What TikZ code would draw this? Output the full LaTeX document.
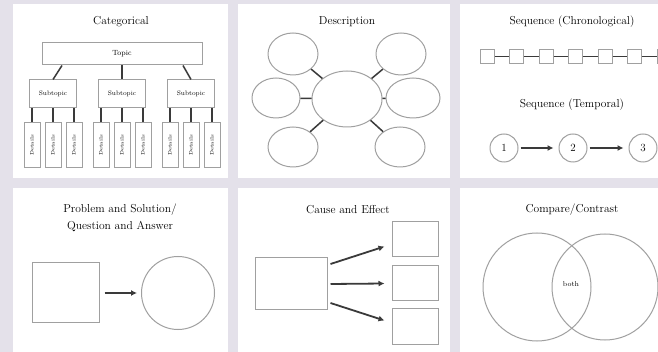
\documentclass[tikz,border=0pt]{standalone}
\usepackage{tikz}
\usetikzlibrary{positioning}
\usetikzlibrary{shapes.geometric}
\usetikzlibrary{arrows.meta}
\definecolor{backdrop}{HTML}{E4E1EA}
\definecolor{edgegray}{HTML}{A0A0A0}
\definecolor{inkgray}{HTML}{3A3A3A}
\tikzset{panel/.style={fill=white}}
\tikzset{heading/.style={font=\fontsize{11.5}{17}\selectfont, text=black, align=center}}
\tikzset{boxnode/.style={rectangle, draw=edgegray, line width=1pt, fill=white, inner sep=0pt}}
\tikzset{subbox/.style={boxnode, minimum width=47pt, minimum height=28pt, font=\fontsize{6.5}{7}\selectfont}}
\tikzset{detailbox/.style={boxnode, minimum width=16pt, minimum height=45pt, font=\fontsize{5}{6}\selectfont}}
\tikzset{seqbox/.style={boxnode, minimum size=14pt}}
\tikzset{ovalnode/.style={ellipse, draw=edgegray, line width=1pt, fill=white, inner sep=0pt}}
\tikzset{roundnode/.style={circle, draw=edgegray, line width=1pt, inner sep=0pt}}
\tikzset{link/.style={draw=inkgray, line width=1.5pt}}
\tikzset{arrowlink/.style={draw=inkgray, line width=1.8pt, -{Latex[length=6pt,width=6pt]}}}

\begin{document}
\begin{tikzpicture}[x=1pt, y=-1pt]

    \useasboundingbox (0,0) rectangle (658,352);
    \fill[backdrop] (0,0) rectangle (658,352);
    \fill[panel] (13,4) rectangle (228,178);
    \fill[panel] (238,4) rectangle (450,178);
    \fill[panel] (460,4) rectangle (670,178);
    \fill[panel] (13,188) rectangle (228,360);
    \fill[panel] (238,188) rectangle (450,360);
    \fill[panel] (460,188) rectangle (670,360);

    \node[heading]        (cattitle)      at (121,22)             {Categorical};
    \node[boxnode, minimum width=160pt, minimum height=22pt, font=\fontsize{7.5}{8}\selectfont] (topic) at (122,54) {Topic};
    \node[subbox]         (subtopicB)     at (122,94)             {Subtopic};
    \node[subbox]         (subtopicA)     [left=21pt of subtopicB]  {Subtopic};
    \node[subbox]         (subtopicC)     [right=21pt of subtopicB] {Subtopic};

    \node[detailbox]      (detailA2)      [below=14pt of subtopicA] {\rotatebox{90}{Details}};
    \node[detailbox]      (detailA1)      [left=4pt of detailA2]    {\rotatebox{90}{Details}};
    \node[detailbox]      (detailA3)      [right=4pt of detailA2]   {\rotatebox{90}{Details}};
    \node[detailbox]      (detailB2)      [below=14pt of subtopicB] {\rotatebox{90}{Details}};
    \node[detailbox]      (detailB1)      [left=4pt of detailB2]    {\rotatebox{90}{Details}};
    \node[detailbox]      (detailB3)      [right=4pt of detailB2]   {\rotatebox{90}{Details}};
    \node[detailbox]      (detailC2)      [below=14pt of subtopicC] {\rotatebox{90}{Details}};
    \node[detailbox]      (detailC1)      [left=4pt of detailC2]    {\rotatebox{90}{Details}};
    \node[detailbox]      (detailC3)      [right=4pt of detailC2]   {\rotatebox{90}{Details}};

    \draw[link] ([xshift=-60pt]topic.south) -- (subtopicA.north);
    \draw[link] (topic.south) -- (subtopicB.north);
    \draw[link] ([xshift=61pt]topic.south) -- (subtopicC.north);
    \draw[link] (detailA1 |- subtopicA.south) -- (detailA1);
    \draw[link] (detailA2 |- subtopicA.south) -- (detailA2);
    \draw[link] (detailA3 |- subtopicA.south) -- (detailA3);
    \draw[link] (detailB1 |- subtopicB.south) -- (detailB1);
    \draw[link] (detailB2 |- subtopicB.south) -- (detailB2);
    \draw[link] (detailB3 |- subtopicB.south) -- (detailB3);
    \draw[link] (detailC1 |- subtopicC.south) -- (detailC1);
    \draw[link] (detailC2 |- subtopicC.south) -- (detailC2);
    \draw[link] (detailC3 |- subtopicC.south) -- (detailC3);

    \node[heading]        (desctitle)     at (347,22)             {Description};
    \node[ovalnode, minimum width=70pt, minimum height=56pt] (hub)        at (347,99)  {};
    \node[ovalnode, minimum width=50pt, minimum height=42pt] (upperleft)  at (293,54)  {};
    \node[ovalnode, minimum width=50pt, minimum height=42pt] (upperright) at (401,54)  {};
    \node[ovalnode, minimum width=48pt, minimum height=40pt] (midleft)    at (276,98)  {};
    \node[ovalnode, minimum width=54pt, minimum height=40pt] (midright)   at (413,98)  {};
    \node[ovalnode, minimum width=50pt, minimum height=40pt] (lowerleft)  at (293,147) {};
    \node[ovalnode, minimum width=50pt, minimum height=40pt] (lowerright) at (400,147) {};

    \draw[link] (hub) -- (upperleft);
    \draw[link] (hub) -- (upperright);
    \draw[link] (hub) -- (midleft);
    \draw[link] (hub) -- (midright);
    \draw[link] (hub) -- (lowerleft);
    \draw[link] (hub) -- (lowerright);

    \node[heading]        (chrontitle)    at (572,22)             {Sequence (Chronological)};
    \node[seqbox]         (event1)        at (487,56.5)           {};
    \node[seqbox]         (event2)        [right=14.5pt of event1] {};
    \node[seqbox]         (event3)        [right=14.5pt of event2] {};
    \node[seqbox]         (event4)        [right=14.5pt of event3] {};
    \node[seqbox]         (event5)        [right=14.5pt of event4] {};
    \node[seqbox]         (event6)        [right=14.5pt of event5] {};
    \node[seqbox]         (event7)        [right=14.5pt of event6] {};

    \draw[link] (event1) -- (event2);
    \draw[link] (event2) -- (event3);
    \draw[link] (event3) -- (event4);
    \draw[link] (event4) -- (event5);
    \draw[link] (event5) -- (event6);
    \draw[link] (event6) -- (event7);

    \node[heading]        (temptitle)     at (572,105)            {Sequence (Temporal)};
    \node[roundnode, minimum size=28pt, font=\fontsize{11}{12}\selectfont] (stage1) at (504,148) {1};
    \node[roundnode, minimum size=28pt, font=\fontsize{11}{12}\selectfont] (stage2) [right=40pt of stage1] {2};
    \node[roundnode, minimum size=28pt, font=\fontsize{11}{12}\selectfont] (stage3) [right=41pt of stage2] {3};

    \draw[arrowlink, shorten <=2pt, shorten >=5pt] (stage1) -- (stage2);
    \draw[arrowlink, shorten <=2pt, shorten >=5pt] (stage2) -- (stage3);

    \node[heading]        (probtitle)     at (120,218)            {Problem and Solution/\\Question and Answer};
    \node[boxnode, minimum width=67pt, minimum height=60pt] (problem) at (65.5,293) {};
    \node[roundnode, fill=white, minimum size=73pt]          (answer)  at (178,293)  {};

    \draw[arrowlink, shorten <=5pt, shorten >=4pt] (problem) -- (answer);

    \node[heading]        (causetitle)    at (348,210)            {Cause and Effect};
    \node[boxnode, minimum width=72pt, minimum height=52pt] (cause)   at (291,284)   {};
    \node[boxnode, minimum width=46pt, minimum height=35pt] (effect2) at (415,283.5) {};
    \node[boxnode, minimum width=46pt, minimum height=35pt] (effect1) [above=8pt of effect2] {};
    \node[boxnode, minimum width=46pt, minimum height=35pt] (effect3) [below=7pt of effect2] {};

    \draw[arrowlink] ([xshift=3pt, yshift=20pt]cause.east) -- ([xshift=-7pt, yshift=-7pt]effect1.west);
    \draw[arrowlink] ([xshift=3pt]cause.east) -- ([xshift=-7pt]effect2.west);
    \draw[arrowlink] ([xshift=3pt, yshift=-19pt]cause.east) -- ([xshift=-7pt, yshift=6pt]effect3.west);

    \node[heading]        (comptitle)     at (572,210)            {Compare/Contrast};
    \node[roundnode, minimum size=108pt] (firstset)  at (537,287) {};
    \node[roundnode, minimum size=106pt] (secondset) at (605,287) {};
    \node[font=\fontsize{7}{8}\selectfont] (both) at (571,284) {both};

\end{tikzpicture}
\end{document}
